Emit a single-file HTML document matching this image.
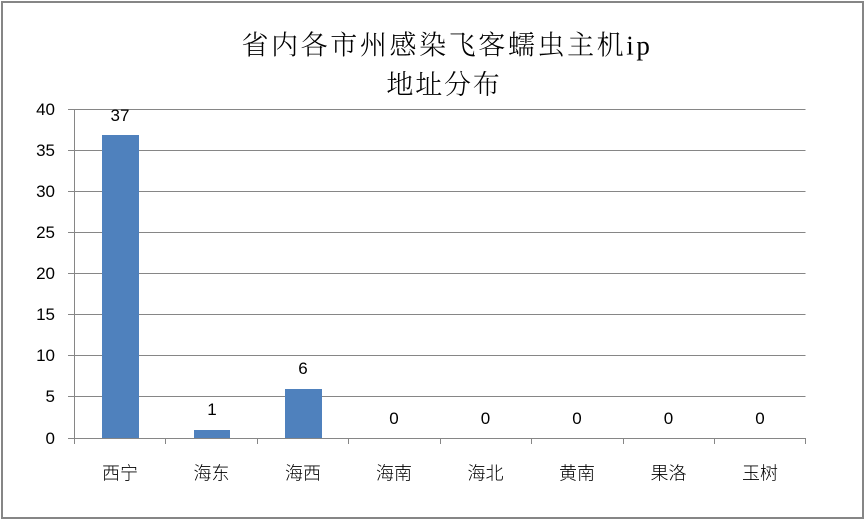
<!DOCTYPE html>
<html><head><meta charset="utf-8"><style>
html,body{margin:0;padding:0;background:#fff;}
svg{display:block;}
.t{font-family:"Liberation Serif","Noto Serif CJK SC",serif;font-size:27px;font-weight:300;fill:#000;}
.c{font-family:"Liberation Sans","Noto Sans CJK SC",sans-serif;font-size:18px;font-weight:300;fill:#000;}
.n{font-family:"Liberation Sans",sans-serif;font-size:17px;fill:#000;}
</style></head><body>
<svg width="865" height="520" viewBox="0 0 865 520" xmlns="http://www.w3.org/2000/svg">
<rect x="0" y="0" width="865" height="520" fill="#fff"/>
<rect x="2" y="2" width="861" height="516" fill="none" stroke="#868686" stroke-width="2"/>
<text class="t" x="447" y="54.5" text-anchor="middle" style="letter-spacing:2.6px">省内各市州感染飞客蠕虫主机ip</text>
<text class="t" x="444" y="94" text-anchor="middle" style="letter-spacing:1.8px">地址分布</text>
<g stroke="#868686" stroke-width="1" shape-rendering="crispEdges">
<line x1="68" y1="109.5" x2="805.5" y2="109.5"/>
<line x1="68" y1="150.5" x2="805.5" y2="150.5"/>
<line x1="68" y1="191.5" x2="805.5" y2="191.5"/>
<line x1="68" y1="232.5" x2="805.5" y2="232.5"/>
<line x1="68" y1="273.5" x2="805.5" y2="273.5"/>
<line x1="68" y1="314.5" x2="805.5" y2="314.5"/>
<line x1="68" y1="355.5" x2="805.5" y2="355.5"/>
<line x1="68" y1="396.5" x2="805.5" y2="396.5"/>
<line x1="68" y1="438.5" x2="805.5" y2="438.5"/>
<line x1="74.5" y1="109" x2="74.5" y2="444"/>
<line x1="165.5" y1="438" x2="165.5" y2="444"/>
<line x1="257.5" y1="438" x2="257.5" y2="444"/>
<line x1="348.5" y1="438" x2="348.5" y2="444"/>
<line x1="440.5" y1="438" x2="440.5" y2="444"/>
<line x1="531.5" y1="438" x2="531.5" y2="444"/>
<line x1="623.5" y1="438" x2="623.5" y2="444"/>
<line x1="714.5" y1="438" x2="714.5" y2="444"/>
<line x1="805.5" y1="438" x2="805.5" y2="444"/>
</g>
<g class="n" text-anchor="end">
<text x="55" y="115">40</text>
<text x="55" y="156">35</text>
<text x="55" y="197">30</text>
<text x="55" y="238">25</text>
<text x="55" y="279">20</text>
<text x="55" y="320">15</text>
<text x="55" y="361">10</text>
<text x="55" y="402">5</text>
<text x="55" y="444">0</text>
</g>
<g fill="#4F81BD" shape-rendering="crispEdges">
<rect x="102" y="135" width="37" height="303"/>
<rect x="194" y="430" width="36" height="8"/>
<rect x="285" y="389" width="37" height="49"/>
</g>
<g class="n" text-anchor="middle">
<text x="120" y="121">37</text>
<text x="212" y="415">1</text>
<text x="303" y="374">6</text>
<text x="394" y="424">0</text>
<text x="485.5" y="424">0</text>
<text x="577" y="424">0</text>
<text x="668.5" y="424">0</text>
<text x="760" y="424">0</text>
</g>
<g class="c" text-anchor="middle">
<text x="120" y="479.5">西宁</text>
<text x="211.5" y="479.5">海东</text>
<text x="303" y="479.5">海西</text>
<text x="394" y="479.5">海南</text>
<text x="485.5" y="479.5">海北</text>
<text x="577" y="479.5">黄南</text>
<text x="668.5" y="479.5">果洛</text>
<text x="760" y="479.5">玉树</text>
</g>
</svg>
</body></html>
